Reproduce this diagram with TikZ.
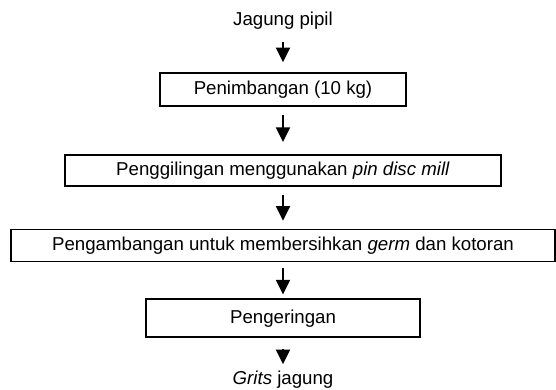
\documentclass[tikz,border=0pt]{standalone}
\usepackage{fontspec}
\setmainfont{Liberation Sans}
\usepackage{tikz}
\usetikzlibrary{arrows.meta,positioning}
\tikzset{
  procbox/.style={draw=black,line width=1.3pt,inner sep=0pt,align=center},
  ends/.style={inner sep=0pt,text height=10pt,text depth=3pt},
  arrow/.style={-{Triangle[length=11pt,width=10.5pt]},draw=black,line width=1.6pt}
}

\begin{document}
\begin{tikzpicture}[font=\fontsize{14}{17}\selectfont]
  \useasboundingbox (0,0) rectangle (417pt,-291.75pt);
  \node[ends] (in) at (212.25pt,-15.75pt) {Jagung pipil};
  \node[procbox,minimum width=184.5pt,minimum height=24.75pt,below=31.75pt of in] (weigh) {Penimbangan (10 kg)};
  \node[procbox,minimum width=327pt,minimum height=23.25pt,below=35.25pt of weigh] (mill) {Penggilingan menggunakan \textit{pin disc mill}};
  \node[procbox,minimum width=408pt,minimum height=24pt,below=31.5pt of mill] (float) {Pengambangan untuk membersihkan \textit{germ} dan kotoran};
  \node[procbox,minimum width=205.5pt,minimum height=28.5pt,below=27pt of float] (dry) {Pengeringan};
  \node[ends,below=24.25pt of dry] (out) {\textit{Grits} jagung};
  \draw[arrow,shorten <=9.2pt,shorten >=7.5pt] (in) -- (weigh);
  \draw[arrow,shorten <=6pt,shorten >=9pt] (weigh) -- (mill);
  \draw[arrow,shorten <=6pt,shorten >=6pt] (mill) -- (float);
  \draw[arrow,shorten <=4.5pt,shorten >=3pt] (float) -- (dry);
  \draw[arrow,shorten <=8.25pt,shorten >=4.7pt] (dry) -- (out);
\end{tikzpicture}
\end{document}
